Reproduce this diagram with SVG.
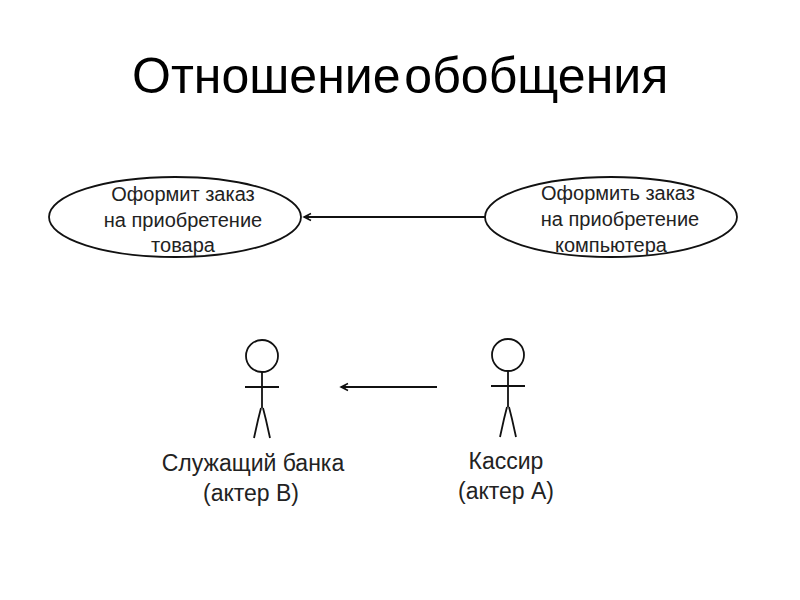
<svg xmlns="http://www.w3.org/2000/svg" width="800" height="600" viewBox="0 0 800 600">
<style>
.title{font-family:"Liberation Sans",Arial,sans-serif;font-size:50px;word-spacing:-10px;fill:#000}
.l{font-family:"Liberation Sans",Arial,sans-serif;font-size:20px;fill:#222;text-anchor:middle}
.a{font-family:"Liberation Sans",Arial,sans-serif;font-size:23px;fill:#222;text-anchor:middle}
.s{fill:none;stroke:#111;stroke-width:1.8}
</style>
<defs>
<marker id="arrow" markerUnits="userSpaceOnUse" markerWidth="14" markerHeight="10" refX="12" refY="5" orient="auto"><path d="M5 1.5L12 5L5 8.5" fill="none" stroke="#111" stroke-width="1.5"/><path d="M7 3.2L12 5L7 6.8Z" fill="#111"/></marker>
<g id="actor-shape"><circle cx="0" cy="0" r="16" class="s"/><path class="s" d="M0 16V52M-17 31H17M-1 52L-4 64L-8 82M1 52L4 64L8 82"/></g>
</defs>
<rect width="800" height="600" fill="#fff"/>
<text class="title" x="132" y="93">Отношение обобщения</text>
<g id="connectors">
<path class="s" d="M485 217H304" marker-end="url(#arrow)"/>
<path class="s" d="M437 387H341" marker-end="url(#arrow)"/>
</g>
<g id="usecase-order">
<ellipse class="s" cx="175" cy="217" rx="126" ry="40"/>
<text class="l" x="183" y="201">Оформит заказ</text>
<text class="l" x="183" y="227">на приобретение</text>
<text class="l" x="183" y="252">товара</text>
</g>
<g id="usecase-computer">
<ellipse class="s" cx="611" cy="217" rx="126" ry="40"/>
<text class="l" x="618" y="200">Оформить заказ</text>
<text class="l" x="620" y="226">на приобретение</text>
<text class="l" x="611" y="252">компьютера</text>
</g>
<g id="actor-b">
<use href="#actor-shape" x="262" y="356"/>
<text class="a" x="253" y="471">Служащий банка</text>
<text class="a" x="251" y="501">(актер В)</text>
</g>
<g id="actor-a">
<use href="#actor-shape" x="508" y="355"/>
<text class="a" x="506" y="469">Кассир</text>
<text class="a" x="506" y="499">(актер А)</text>
</g>
</svg>
